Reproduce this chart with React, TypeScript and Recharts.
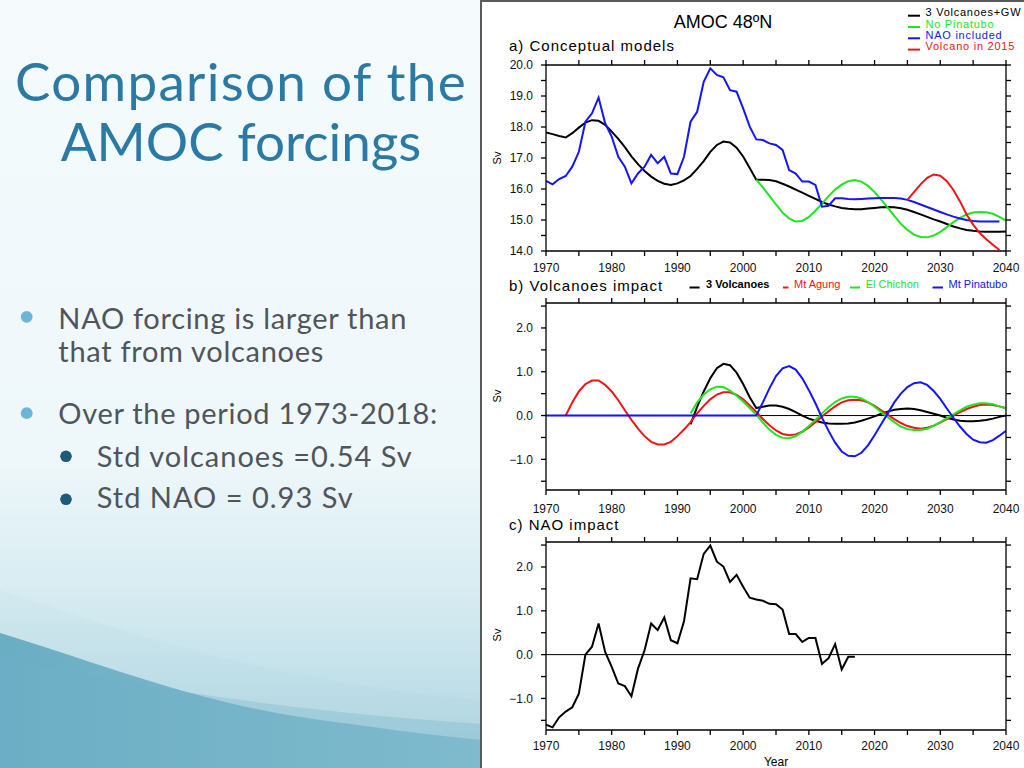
import React from "react";
import { LineChart, Line, XAxis, YAxis, ReferenceLine } from "recharts";

// ---------- categories ----------
const years = [
  1970, 1971, 1972, 1973, 1974, 1975, 1976, 1977, 1978, 1979,
  1980, 1981, 1982, 1983, 1984, 1985, 1986, 1987, 1988, 1989,
  1990, 1991, 1992, 1993, 1994, 1995, 1996, 1997, 1998, 1999,
  2000, 2001, 2002, 2003, 2004, 2005, 2006, 2007, 2008, 2009,
  2010, 2011, 2012, 2013, 2014, 2015, 2016, 2017, 2018, 2019,
  2020, 2021, 2022, 2023, 2024, 2025, 2026, 2027, 2028, 2029,
  2030, 2031, 2032, 2033, 2034, 2035, 2036, 2037, 2038, 2039, 2040,
];
const xTicks = [1970, 1975, 1980, 1985, 1990, 1995, 2000, 2005, 2010, 2015, 2020, 2025, 2030, 2035, 2040];
const yTicksA = [14, 14.5, 15, 15.5, 16, 16.5, 17, 17.5, 18, 18.5, 19, 19.5, 20];
const yTicksB = [-1.5, -1, -0.5, 0, 0.5, 1, 1.5, 2, 2.5];
const yTicksC = [-1.5, -1, -0.5, 0, 0.5, 1, 1.5, 2, 2.5];

// ---------- panel a: AMOC 48N conceptual models (Sv) ----------
// 1970-2040
const amocVolcGW = [
  17.82, 17.77, 17.71, 17.66, 17.8, 17.98, 18.14, 18.22, 18.2, 18.07,
  17.85, 17.62, 17.35, 17.05, 16.8, 16.58, 16.4, 16.26, 16.17, 16.13,
  16.18, 16.28, 16.42, 16.65, 16.9, 17.2, 17.42, 17.53, 17.5, 17.33,
  17.05, 16.68, 16.3, 16.3, 16.29, 16.25, 16.17, 16.08, 15.98, 15.88,
  15.78, 15.68, 15.58, 15.5, 15.44, 15.39, 15.36, 15.35, 15.35, 15.37,
  15.39, 15.41, 15.42, 15.41, 15.38, 15.33, 15.26, 15.18, 15.1, 15.02,
  14.95, 14.87, 14.79, 14.73, 14.68, 14.65, 14.63, 14.62, 14.62, 14.62, 14.63,
];
// 2002-2040
const noPinatuboStart = 2002;
const amocNoPinatubo = [
  16.3, 16.05, 15.78, 15.5, 15.24, 15.05, 14.95, 14.97, 15.1, 15.3,
  15.53, 15.77, 15.98, 16.14, 16.25, 16.29, 16.24, 16.1, 15.9, 15.66,
  15.4, 15.13, 14.88, 14.68, 14.53, 14.45, 14.44, 14.5, 14.62, 14.77,
  14.93, 15.07, 15.18, 15.24, 15.26, 15.25, 15.2, 15.1, 14.98,
];
// 1970-2039
const naoIncludedStart = 1970;
const amocNaoIncluded = [
  16.26, 16.15, 16.32, 16.42, 16.72, 17.2, 18.17, 18.44, 18.95, 18.12,
  17.69, 17.04, 16.72, 16.18, 16.5, 16.72, 17.1, 16.83, 17.04, 16.5,
  16.48, 17.04, 18.17, 18.49, 19.46, 19.89, 19.68, 19.6, 19.19, 19.14,
  18.6, 18.01, 17.6, 17.58, 17.47, 17.42, 17.26, 16.61, 16.5, 16.24,
  16.24, 16.13, 15.43, 15.46, 15.7, 15.7, 15.68, 15.67, 15.68, 15.69,
  15.7, 15.71, 15.71, 15.71, 15.69, 15.65, 15.58, 15.5, 15.42, 15.34,
  15.26, 15.18, 15.11, 15.05, 15.0, 14.97, 14.95, 14.95, 14.95, 14.95,
];
// 2025-2039
const volc2015Start = 2025;
const amocVolc2015 = [
  15.65, 15.9, 16.15, 16.36, 16.47, 16.43, 16.25, 15.97, 15.6, 15.18,
  14.85, 14.58, 14.38, 14.2, 14.03,
];

// ---------- panel b: volcanoes impact (Sv) ----------
const threeVolcStart = 1992;
const impactThreeVolc = [
  -0.2, 0.2, 0.55, 0.85, 1.08, 1.18, 1.15, 0.98,
  0.72, 0.42, 0.17, 0.2, 0.23, 0.23, 0.2, 0.15, 0.08, 0.0,
  -0.07, -0.12, -0.16, -0.18, -0.19, -0.19, -0.18, -0.16, -0.12, -0.07,
  -0.02, 0.04, 0.09, 0.13, 0.15, 0.16, 0.15, 0.12, 0.08, 0.04,
  0.0, -0.05, -0.09, -0.12, -0.13, -0.13, -0.12, -0.1, -0.07, -0.03, 0.0,
];
const agungStart = 1973;
const impactAgung = [
  0.0, 0.3, 0.55, 0.72, 0.8, 0.8, 0.7,
  0.55, 0.35, 0.12, -0.1, -0.3, -0.47, -0.6, -0.66, -0.66, -0.6,
  -0.47, -0.32, -0.15, 0.05, 0.22, 0.37, 0.48, 0.53, 0.53, 0.47,
  0.37, 0.23, 0.08, -0.08, -0.22, -0.34, -0.42, -0.45, -0.43, -0.37,
  -0.27, -0.15, -0.02, 0.1, 0.21, 0.3, 0.35, 0.36, 0.35, 0.3,
  0.22, 0.12, 0.02, -0.08, -0.17, -0.24, -0.28, -0.3, -0.28, -0.23,
  -0.16, -0.08, 0.0, 0.08, 0.15, 0.2, 0.24, 0.25, 0.24, 0.21, 0.17,
];
const chichonStart = 1992;
const impactChichon = [
  0.05, 0.3, 0.48, 0.6, 0.66, 0.65, 0.57, 0.45,
  0.32, 0.17, 0.02, -0.16, -0.32, -0.44, -0.51, -0.52, -0.47, -0.37,
  -0.24, -0.1, 0.05, 0.19, 0.31, 0.39, 0.43, 0.43, 0.39, 0.31,
  0.2, 0.08, -0.04, -0.15, -0.25, -0.31, -0.33, -0.33, -0.3, -0.23,
  -0.15, -0.06, 0.03, 0.12, 0.2, 0.25, 0.28, 0.28, 0.26, 0.21, 0.16,
];
const pinatuboStart = 1970;
const impactPinatubo = [
  0, 0, 0, 0, 0, 0, 0, 0, 0, 0,
  0, 0, 0, 0, 0, 0, 0, 0, 0, 0,
  0, 0, 0, 0, 0, 0, 0, 0, 0, 0,
  0, 0, 0, 0.3, 0.62, 0.9, 1.08, 1.13, 1.05, 0.85,
  0.58, 0.28, -0.05, -0.35, -0.62, -0.82, -0.92, -0.93, -0.85, -0.68,
  -0.45, -0.2, 0.05, 0.3, 0.5, 0.65, 0.74, 0.76, 0.7, 0.56,
  0.38, 0.16, -0.05, -0.25, -0.42, -0.55, -0.61, -0.62, -0.56, -0.46, -0.35,
];

// ---------- panel c: NAO impact (Sv), 1970-2017 ----------
const naoStart = 1970;
const impactNao = [
  -1.6, -1.66, -1.43, -1.3, -1.2, -0.89, 0.0, 0.18, 0.71, 0.06,
  -0.28, -0.66, -0.72, -0.95, -0.32, 0.1, 0.71, 0.56, 0.85, 0.33,
  0.26, 0.76, 1.74, 1.72, 2.3, 2.49, 2.12, 2.01, 1.66, 1.82,
  1.55, 1.3, 1.26, 1.23, 1.16, 1.15, 1.03, 0.47, 0.47, 0.29,
  0.38, 0.38, -0.21, -0.08, 0.24, -0.34, -0.05, -0.05,
];

const at = (arr: number[], start: number, year: number) => {
  const k = year - start;
  return k >= 0 && k < arr.length ? arr[k] : null;
};

const tableA = years.map((year) => ({
  year,
  volcGW: at(amocVolcGW, 1970, year),
  noPin: at(amocNoPinatubo, noPinatuboStart, year),
  nao: at(amocNaoIncluded, naoIncludedStart, year),
  v2015: at(amocVolc2015, volc2015Start, year),
}));
const tableB = years.map((year) => ({
  year,
  three: at(impactThreeVolc, threeVolcStart, year),
  agung: at(impactAgung, agungStart, year),
  chichon: at(impactChichon, chichonStart, year),
  pinatubo: at(impactPinatubo, pinatuboStart, year),
}));
const tableC = years.map((year) => ({ year, nao: at(impactNao, naoStart, year) }));

const BLACK = "#000000";
const GREEN = "#1ee61e";
const BLUE = "#1414ff";
const RED = "#f01414";
const CHART_FONT = "'Liberation Sans', Arial, sans-serif";

const fmtX = (v: number) => (v % 10 === 0 ? String(v) : "");
const fmtY = (v: number) => {
  if (Math.abs(v - Math.round(v)) > 1e-6) return "";
  const r = Math.round(v);
  return (r < 0 ? "\u2212" : "") + Math.abs(r).toFixed(1);
};

type SeriesDef = { key: string; color: string };

function Panel(props: {
  data: any[];
  top: number;
  height: number;
  mTop: number;
  mBottom: number;
  xAxisHeight: number;
  domain: [number, number];
  yTicks: number[];
  xTickMargin: number;
  series: SeriesDef[];
  zero?: boolean;
}) {
  const { data, top, height, mTop, mBottom, xAxisHeight, domain, yTicks, xTickMargin, series, zero } = props;
  const tickStyle = { fill: "#111", fontSize: 12, fontFamily: CHART_FONT };
  const axisStroke = { stroke: "#000", strokeWidth: 1.3 };
  return (
    <div style={{ position: "absolute", left: 482, top, width: 542, height }}>
      <LineChart width={542} height={height} data={data} margin={{ top: mTop, right: 17, bottom: mBottom, left: 4 }}>
        <XAxis
          dataKey="year"
          type="number"
          domain={[1970, 2040]}
          allowDataOverflow
          ticks={xTicks}
          interval={0}
          tickFormatter={fmtX}
          tickSize={5}
          tickMargin={xTickMargin}
          height={xAxisHeight}
          tick={tickStyle}
          axisLine={axisStroke}
          tickLine={axisStroke}
        />
        <XAxis
          xAxisId="top"
          dataKey="year"
          orientation="top"
          type="number"
          domain={[1970, 2040]}
          allowDataOverflow
          ticks={xTicks}
          interval={0}
          tickFormatter={() => ""}
          tickSize={5}
          height={1}
          axisLine={axisStroke}
          tickLine={axisStroke}
        />
        <YAxis
          type="number"
          domain={domain}
          allowDataOverflow
          ticks={yTicks}
          interval={0}
          tickFormatter={fmtY}
          tickSize={5}
          tickMargin={8}
          width={60}
          tick={tickStyle}
          axisLine={axisStroke}
          tickLine={axisStroke}
        />
        <YAxis
          yAxisId="right"
          orientation="right"
          type="number"
          domain={domain}
          allowDataOverflow
          ticks={yTicks}
          interval={0}
          tickFormatter={() => ""}
          tickSize={5}
          width={1}
          axisLine={axisStroke}
          tickLine={axisStroke}
        />
        {zero && <ReferenceLine y={0} stroke="#000" strokeWidth={1} />}
        {series.map((s) => (
          <Line
            key={s.key}
            dataKey={s.key}
            type="linear"
            stroke={s.color}
            strokeWidth={2}
            dot={false}
            activeDot={false}
            isAnimationActive={false}
          />
        ))}
      </LineChart>
    </div>
  );
}

function LeftSide() {
  const bodyFont = "Lato, 'Open Sans', sans-serif";
  const bodyColor = "#50555a";
  return (
    <svg width={482} height={768} style={{ position: "absolute", left: 0, top: 0 }}>
      <defs>
        <linearGradient id="bg" x1="0" y1="0" x2="0" y2="1">
          <stop offset="0" stopColor="#f5fbfd" />
          <stop offset="0.6" stopColor="#eef7fa" />
          <stop offset="0.78" stopColor="#d6ebf1" />
          <stop offset="1" stopColor="#acd4e0" />
        </linearGradient>
        <linearGradient id="wave1" x1="0" y1="0" x2="0" y2="1">
          <stop offset="0" stopColor="#cfe6ed" />
          <stop offset="1" stopColor="#a6d0dc" />
        </linearGradient>
        <linearGradient id="wave2" x1="0" y1="0" x2="1" y2="0">
          <stop offset="0" stopColor="#6aaec4" />
          <stop offset="1" stopColor="#86bfd0" />
        </linearGradient>
      </defs>
      <rect x={0} y={0} width={482} height={768} fill="url(#bg)" />
      <path d="M0,590 C120,630 260,680 482,700 L482,768 L0,768 Z" fill="url(#wave1)" opacity={0.45} />
      <path d="M0,633 C90,660 190,700 300,717 C370,727 430,735 482,740 L482,768 L0,768 Z" fill="url(#wave2)" />
      <path d="M0,657 C150,690 300,712 482,724 L482,768 L0,768 Z" fill="#6fb1c6" opacity={0.3} />
      <text x={241} y={101} textAnchor="middle" fontFamily={bodyFont} fontSize={53} letterSpacing={1.3} fill="#2a7aa5">
        Comparison of the
      </text>
      <text x={241} y={161} textAnchor="middle" fontFamily={bodyFont} fontSize={53} fill="#2a7aa5">
        AMOC forcings
      </text>
      <circle cx={26.7} cy={316.8} r={5.9} fill="#6db4d8" />
      <text x={58.3} y={328.9} fontFamily={bodyFont} fontSize={29} letterSpacing={0.7} fill={bodyColor}>
        NAO forcing is larger than
      </text>
      <text x={58.3} y={361.6} fontFamily={bodyFont} fontSize={29} letterSpacing={0.7} fill={bodyColor}>
        that from volcanoes
      </text>
      <circle cx={26.7} cy={413.2} r={5.9} fill="#6db4d8" />
      <text x={58.3} y={424.2} fontFamily={bodyFont} fontSize={29} letterSpacing={0.7} fill={bodyColor}>
        Over the period 1973-2018:
      </text>
      <circle cx={66} cy={456.3} r={5.8} fill="#1d5a78" />
      <text x={96.7} y={466.6} fontFamily={bodyFont} fontSize={29} letterSpacing={1} fill={bodyColor}>
        Std volcanoes =0.54 Sv
      </text>
      <circle cx={66} cy={499.3} r={5.8} fill="#1d5a78" />
      <text x={96.7} y={507.9} fontFamily={bodyFont} fontSize={29} letterSpacing={1} fill={bodyColor}>
        Std NAO = 0.93 Sv
      </text>
    </svg>
  );
}

function Overlay() {
  const f = CHART_FONT;
  const legA = [
    { label: "3 Volcanoes+GW", color: "#000", y: 16.2 },
    { label: "No Pinatubo", color: GREEN, y: 27.5 },
    { label: "NAO included", color: BLUE, y: 38.8 },
    { label: "Volcano in 2015", color: RED, y: 50.1 },
  ];
  const legB = [
    { label: "3 Volcanoes", color: "#000", d0: 207.5, d1: 217.6, tx: 224, bold: true },
    { label: "Mt Agung", color: RED, d0: 301, d1: 306.5, tx: 312, bold: false },
    { label: "El Chichon", color: GREEN, d0: 368, d1: 378, tx: 383.7, bold: false },
    { label: "Mt Pinatubo", color: BLUE, d0: 450.5, d1: 461, tx: 466.6, bold: false },
  ];
  return (
    <svg width={542} height={768} style={{ position: "absolute", left: 482, top: 0, pointerEvents: "none" }}>
      <text x={241} y={27.5} textAnchor="middle" fontFamily={f} fontSize={18} fill="#000">
        AMOC 48ºN
      </text>
      {legA.map((l) => (
        <g key={l.label}>
          <line x1={426} x2={438} y1={l.y - 0.5} y2={l.y - 0.5} stroke={l.color} strokeWidth={2} />
          <text x={443.5} y={l.y} fontFamily={f} fontSize={11} letterSpacing={0.75} fill={l.color}>
            {l.label}
          </text>
        </g>
      ))}
      <text x={27} y={50.7} fontFamily={f} fontSize={15} letterSpacing={1} fill="#000">
        a) Conceptual models
      </text>
      <text x={27} y={290.5} fontFamily={f} fontSize={15} letterSpacing={1} fill="#000">
        b) Volcanoes impact
      </text>
      {legB.map((l) => (
        <g key={l.label}>
          <line x1={l.d0} x2={l.d1} y1={287.5} y2={287.5} stroke={l.color} strokeWidth={2} />
          <text x={l.tx} y={288.3} fontFamily={f} fontSize={11} fontWeight={l.bold ? 600 : 400} fill={l.color}>
            {l.label}
          </text>
        </g>
      ))}
      <text x={27} y={530} fontFamily={f} fontSize={15} letterSpacing={1} fill="#000">
        c) NAO impact
      </text>
      {[158, 396, 635].map((cy) => (
        <text
          key={cy}
          x={15}
          y={cy}
          transform={`rotate(-90 15 ${cy})`}
          textAnchor="middle"
          dominantBaseline="central"
          fontFamily={f}
          fontSize={11}
          fill="#000"
        >
          Sv
        </text>
      ))}
      <text x={294} y={766} textAnchor="middle" fontFamily={f} fontSize={12} fill="#000">
        Year
      </text>
    </svg>
  );
}

export default function App() {
  return (
    <div style={{ position: "absolute", left: 0, top: 0, width: 1024, height: 768, overflow: "hidden" }}>
      <LeftSide />
      <div
        style={{
          position: "absolute",
          left: 480,
          top: 0,
          width: 544,
          height: 768,
          background: "#ffffff",
          borderLeft: "2px solid #5a5a5a",
          borderTop: "2px solid #5a5a5a",
          boxSizing: "border-box",
        }}
      />
      <Panel
        data={tableA}
        top={0}
        height={285}
        mTop={64}
        mBottom={4}
        xAxisHeight={30}
        domain={[14, 20]}
        yTicks={yTicksA}
        xTickMargin={7}
        series={[
          { key: "volcGW", color: BLACK },
          { key: "noPin", color: GREEN },
          { key: "nao", color: BLUE },
          { key: "v2015", color: RED },
        ]}
      />
      <Panel
        data={tableB}
        top={270}
        height={250}
        mTop={32}
        mBottom={4}
        xAxisHeight={26}
        domain={[-1.7, 2.57]}
        yTicks={yTicksB}
        xTickMargin={9}
        zero
        series={[
          { key: "three", color: BLACK },
          { key: "agung", color: RED },
          { key: "chichon", color: GREEN },
          { key: "pinatubo", color: BLUE },
        ]}
      />
      <Panel
        data={tableC}
        top={515}
        height={253}
        mTop={26}
        mBottom={4}
        xAxisHeight={34}
        domain={[-1.72, 2.57]}
        yTicks={yTicksC}
        xTickMargin={6}
        zero
        series={[{ key: "nao", color: BLACK }]}
      />
      <Overlay />
    </div>
  );
}
